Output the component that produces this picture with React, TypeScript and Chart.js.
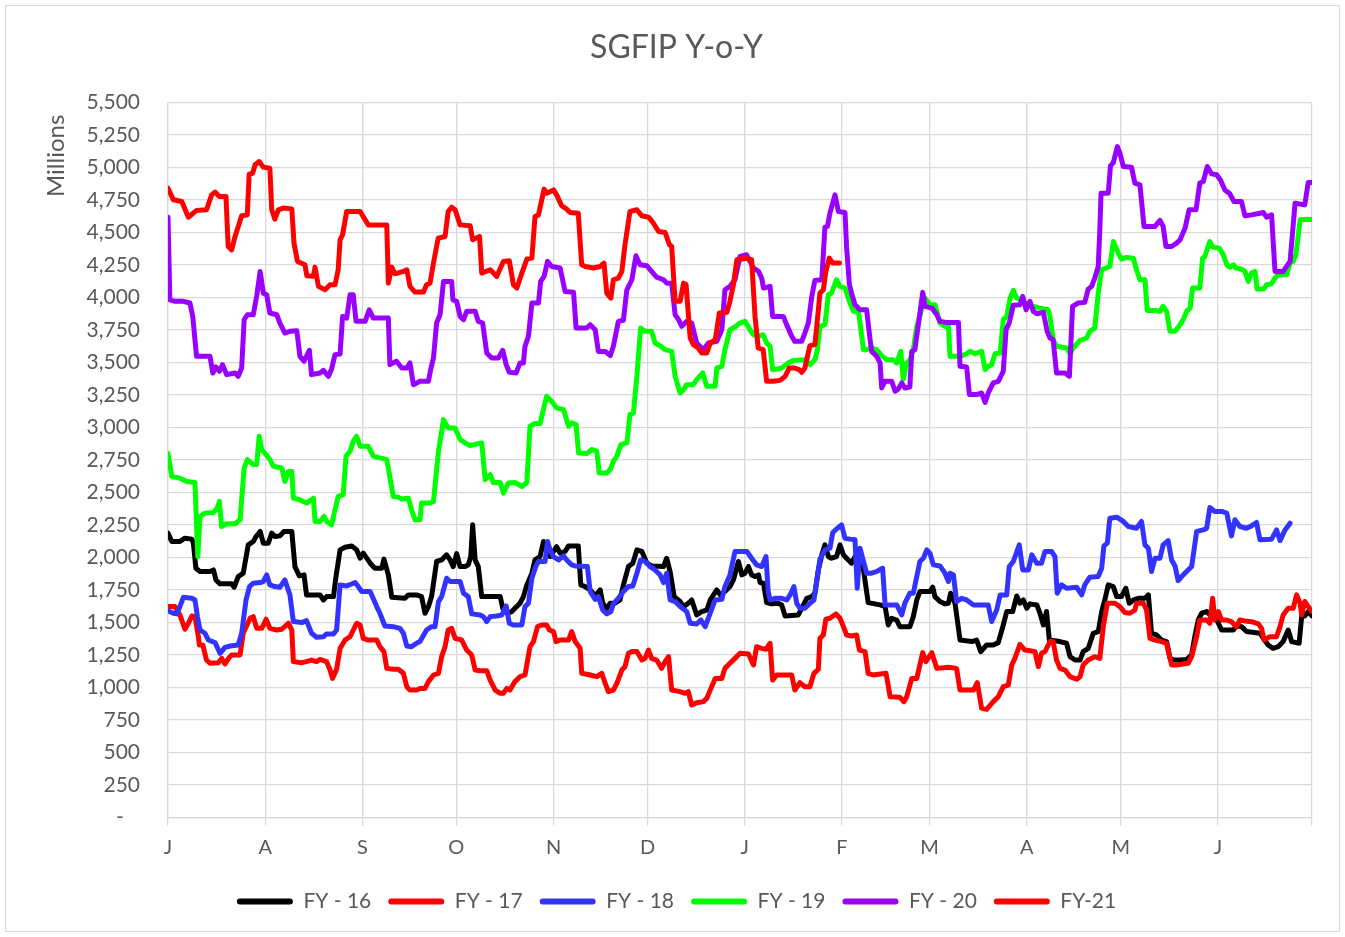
import React, { useEffect, useRef } from "react";
import { Chart, registerables } from "chart.js";

Chart.register(...registerables);

const seriesNames = ["FY - 16", "FY - 17", "FY - 18", "FY - 19", "FY - 20", "FY-21"];
const seriesColors = ["#000000", "#FF0000", "#3333FF", "#00FF00", "#9900FF", "#FF0000"];
const monthStarts = [0, 31, 62, 92, 123, 153, 184, 215, 243, 274, 304, 335, 365];
const monthLabels = ["J", "A", "S", "O", "N", "D", "J", "F", "M", "A", "M", "J", ""];
const chartTitle = "SGFIP Y-o-Y";
const yAxisTitle = "Millions";

// [day of fiscal year (0 = 1 July), value in millions]
const fy16: [number, number][] = [
  [0, 2187], [1.2, 2123], [3.8, 2123], [5.4, 2148], [7.6, 2141], [8.1, 2110], [8.9, 1917], [10.2, 1892], [13.4, 1892], [14.5, 1904],
  [15.3, 1827], [16.6, 1797], [20.3, 1797], [21.1, 1771], [22.4, 1853], [24.0, 1879], [25.6, 2097], [27.2, 2123], [28.1, 2161], [29.4, 2200],
  [30.4, 2110], [32.0, 2110], [33.1, 2187], [34.1, 2161], [35.7, 2166], [37.0, 2200], [39.5, 2200], [40.5, 1930], [41.9, 1858], [43.4, 1866],
  [44.2, 1712], [48.5, 1712], [49.6, 1673], [50.6, 1699], [52.8, 1699], [53.6, 1853], [54.9, 2058], [56.5, 2079], [58.6, 2089], [60.2, 2058],
  [61.3, 1994], [62.3, 2033], [64.5, 1956], [66.0, 1917], [68.2, 1917], [68.9, 1987], [70.3, 1866], [71.4, 1694], [75.6, 1686], [76.7, 1712],
  [79.3, 1712], [80.9, 1699], [82.0, 1571], [83.1, 1622], [84.1, 1699], [85.7, 1969], [87.3, 1981], [88.9, 2020], [90.0, 1981], [91.0, 1930],
  [92.1, 2030], [93.2, 1930], [94.8, 1930], [95.8, 1943], [96.6, 2007], [97.2, 2251], [98.0, 1981], [99.0, 1930], [100.1, 1699], [106.0, 1699],
  [106.8, 1609], [108.1, 1571], [109.7, 1584], [110.7, 1609], [112.3, 1648], [113.4, 1699], [114.5, 1789], [116.1, 1879], [117.1, 1981], [118.7, 2007],
  [119.8, 2123], [120.8, 2097], [121.9, 2007], [124.0, 2084], [125.1, 2033], [126.7, 2046], [127.8, 2089], [130.9, 2089], [131.7, 1789], [133.1, 1776],
  [134.7, 1750], [136.3, 1704], [137.9, 1750], [138.7, 1648], [140.0, 1609], [141.1, 1648], [142.6, 1648], [144.2, 1673], [145.3, 1789], [146.9, 1930],
  [148.3, 1956], [149.6, 2058], [151.2, 2046], [152.8, 1956], [154.3, 1935], [158.1, 1930], [159.1, 1994], [160.2, 1892], [161.5, 1699], [163.4, 1661],
  [164.5, 1622], [166.0, 1648], [167.1, 1673], [168.7, 1558], [170.3, 1584], [171.9, 1596], [173.0, 1673], [175.1, 1750], [176.2, 1712], [177.7, 1738],
  [179.3, 1776], [180.4, 1827], [182.0, 1969], [183.1, 1866], [184.1, 1879], [185.2, 1930], [186.2, 1866], [187.3, 1853], [188.4, 1866], [188.9, 1807],
  [190.0, 1802], [191.0, 1653], [192.6, 1643], [194.7, 1648], [195.8, 1635], [196.9, 1550], [201.1, 1558], [202.2, 1609], [203.8, 1686], [205.4, 1699],
  [206.4, 1725], [207.5, 1904], [208.6, 2020], [209.6, 2097], [210.7, 2007], [211.7, 1994], [213.3, 2007], [214.4, 2097], [215.5, 2020], [216.5, 1994],
  [218.1, 1956], [219.2, 2007], [220.3, 1981], [221.9, 1904], [223.4, 1653], [227.2, 1635], [228.8, 1622], [229.8, 1481], [230.9, 1532], [232.5, 1519],
  [233.5, 1468], [236.7, 1468], [237.8, 1545], [238.9, 1673], [239.9, 1738], [243.1, 1738], [244.0, 1771], [244.7, 1699], [246.3, 1661], [247.9, 1643],
  [249.0, 1648], [249.7, 1725], [251.1, 1648], [252.7, 1365], [256.4, 1353], [258.0, 1365], [259.3, 1276], [261.2, 1327], [263.3, 1327], [264.9, 1345],
  [266.5, 1481], [267.6, 1584], [269.5, 1584], [270.8, 1704], [271.8, 1648], [272.9, 1673], [274.0, 1609], [275.0, 1643], [277.2, 1635], [278.2, 1571],
  [279.3, 1481], [280.3, 1584], [281.2, 1365], [284.6, 1353], [286.7, 1340], [287.8, 1237], [289.4, 1211], [291.0, 1211], [292.0, 1276], [293.6, 1301],
  [295.2, 1417], [296.8, 1430], [297.9, 1584], [298.9, 1673], [300.0, 1789], [301.6, 1776], [302.7, 1699], [304.2, 1699], [305.6, 1763], [306.7, 1648],
  [308.0, 1673], [309.6, 1686], [311.7, 1686], [312.8, 1712], [313.8, 1417], [315.4, 1404], [317.0, 1365], [318.6, 1353], [319.7, 1224], [320.9, 1211],
  [322.9, 1211], [325.0, 1216], [326.6, 1250], [327.6, 1391], [328.7, 1519], [329.8, 1571], [331.4, 1584], [333.0, 1545], [334.6, 1519], [336.2, 1442],
  [339.9, 1442], [340.9, 1473], [342.5, 1468], [344.1, 1430], [348.4, 1417], [349.5, 1378], [351.0, 1327], [352.6, 1301], [354.2, 1314], [355.8, 1353],
  [357.4, 1442], [358.5, 1353], [360.9, 1340], [361.7, 1545], [362.7, 1550], [363.8, 1584], [365.0, 1550],
];

const fy17: [number, number][] = [
  [0, 1622], [2.2, 1622], [3.8, 1558], [5.4, 1448], [6.5, 1494], [7.6, 1550], [8.6, 1545], [9.7, 1391], [10.0, 1327], [11.1, 1327],
  [12.3, 1211], [13.4, 1186], [16.1, 1191], [17.1, 1224], [18.2, 1181], [19.3, 1224], [20.3, 1250], [23.0, 1250], [24.0, 1417], [26.2, 1532],
  [27.2, 1545], [28.3, 1455], [29.9, 1455], [31.3, 1525], [32.5, 1455], [34.7, 1442], [36.3, 1448], [38.4, 1494], [39.5, 1442], [40.0, 1199],
  [42.7, 1191], [44.2, 1199], [45.8, 1211], [47.4, 1199], [48.5, 1216], [50.6, 1199], [51.7, 1134], [52.5, 1070], [53.8, 1140], [54.9, 1301],
  [56.5, 1365], [58.1, 1391], [60.2, 1494], [61.3, 1481], [62.3, 1378], [63.9, 1365], [66.6, 1365], [67.6, 1314], [68.9, 1276], [69.8, 1147],
  [71.9, 1140], [73.5, 1140], [75.1, 1109], [76.2, 1006], [77.2, 980], [79.3, 980], [80.4, 993], [82.0, 993], [83.1, 1045], [84.7, 1096],
  [86.3, 1109], [87.3, 1237], [88.4, 1314], [89.4, 1442], [90.5, 1455], [91.6, 1378], [93.7, 1365], [95.3, 1288], [96.9, 1250], [98.0, 1134],
  [99.6, 1129], [101.7, 1129], [102.8, 1057], [104.4, 980], [106.0, 955], [107.0, 955], [108.1, 993], [109.1, 980], [110.7, 1045], [112.3, 1083],
  [113.9, 1096], [115.5, 1314], [116.6, 1353], [117.9, 1468], [119.2, 1481], [120.8, 1481], [121.7, 1442], [123.0, 1430], [123.8, 1353], [125.1, 1365],
  [127.8, 1365], [128.8, 1430], [129.9, 1353], [131.5, 1301], [132.0, 1109], [134.7, 1096], [136.8, 1083], [138.4, 1109], [139.5, 1032], [140.5, 968],
  [142.1, 980], [143.2, 1032], [144.8, 1134], [145.8, 1160], [146.9, 1263], [148.0, 1276], [149.6, 1276], [151.2, 1211], [152.2, 1224], [153.3, 1288],
  [154.3, 1224], [155.9, 1211], [157.5, 1147], [158.6, 1199], [159.7, 1237], [160.7, 980], [163.4, 968], [165.0, 955], [166.0, 968], [167.1, 865],
  [168.7, 883], [170.8, 891], [171.9, 916], [173.0, 980], [174.6, 1070], [176.7, 1070], [177.7, 1147], [179.3, 1186], [180.9, 1224], [182.5, 1263],
  [185.2, 1258], [186.8, 1173], [187.8, 1314], [189.4, 1301], [190.8, 1294], [192.1, 1340], [192.9, 1057], [194.2, 1096], [199.0, 1096], [200.0, 980],
  [201.6, 1037], [203.2, 1006], [204.8, 1006], [206.1, 1109], [207.5, 1140], [208.0, 1378], [209.1, 1404], [209.9, 1525], [211.2, 1532], [213.1, 1566],
  [214.4, 1532], [215.5, 1468], [216.5, 1404], [218.1, 1396], [219.7, 1404], [220.6, 1288], [222.4, 1276], [223.4, 1109], [225.0, 1096], [229.1, 1109],
  [230.4, 929], [233.5, 924], [234.8, 891], [235.7, 929], [237.3, 1070], [238.9, 1070], [240.8, 1268], [241.8, 1199], [243.7, 1268], [245.3, 1147],
  [249.0, 1155], [251.6, 1147], [252.7, 980], [257.0, 980], [258.2, 1037], [259.6, 839], [261.2, 832], [263.3, 891], [264.9, 929], [266.5, 1006],
  [268.1, 1019], [269.2, 1173], [270.2, 1224], [271.8, 1332], [273.4, 1288], [275.0, 1283], [276.6, 1276], [277.7, 1160], [278.7, 1263], [279.8, 1276],
  [281.4, 1353], [282.4, 1353], [283.5, 1211], [284.6, 1147], [286.2, 1134], [287.8, 1083], [289.9, 1063], [291.0, 1083], [292.0, 1173], [293.6, 1211],
  [295.7, 1237], [297.3, 1224], [298.4, 1468], [299.7, 1648], [302.1, 1648], [303.7, 1622], [305.3, 1576], [306.9, 1571], [308.5, 1596], [309.0, 1648],
  [311.2, 1648], [312.2, 1596], [313.3, 1378], [314.9, 1365], [317.0, 1353], [318.6, 1340], [320.2, 1173], [321.8, 1173], [323.9, 1181], [325.5, 1186],
  [326.6, 1237], [328.2, 1391], [329.2, 1519], [331.4, 1519], [332.4, 1494], [333.3, 1686], [334.0, 1519], [335.1, 1584], [336.2, 1519], [337.8, 1519],
  [339.3, 1506], [340.9, 1468], [342.0, 1519], [343.6, 1512], [345.7, 1506], [347.9, 1489], [348.9, 1455], [349.7, 1365], [351.6, 1391], [353.7, 1391],
  [354.8, 1468], [355.8, 1558], [357.4, 1609], [359.0, 1609], [360.1, 1712], [361.2, 1648], [361.7, 1558], [362.7, 1661], [363.8, 1622], [365.0, 1584],
];

const fy18: [number, number][] = [
  [0, 1591], [1.7, 1571], [2.8, 1566], [3.8, 1622], [4.9, 1694], [7.6, 1686], [8.6, 1673], [9.4, 1545], [10.2, 1442], [11.8, 1417],
  [12.9, 1365], [15.0, 1345], [16.6, 1263], [18.2, 1309], [19.8, 1319], [22.4, 1327], [23.5, 1417], [24.9, 1673], [26.0, 1776], [27.2, 1802],
  [29.4, 1807], [30.4, 1815], [31.5, 1866], [32.5, 1789], [34.1, 1776], [35.7, 1771], [37.3, 1827], [38.9, 1712], [40.0, 1507], [42.7, 1499],
  [44.2, 1514], [45.8, 1417], [47.4, 1386], [49.6, 1391], [50.6, 1412], [52.8, 1412], [53.8, 1442], [54.9, 1789], [57.0, 1781], [58.6, 1796],
  [59.7, 1807], [60.7, 1776], [61.8, 1738], [64.5, 1738], [66.6, 1622], [67.6, 1571], [69.2, 1473], [71.9, 1468], [74.0, 1455], [75.1, 1417],
  [76.2, 1319], [77.7, 1314], [79.3, 1340], [80.4, 1353], [82.5, 1442], [84.1, 1468], [85.2, 1468], [86.3, 1661], [87.3, 1699], [88.9, 1840],
  [90.0, 1815], [93.2, 1815], [94.3, 1725], [95.8, 1699], [96.9, 1566], [99.6, 1558], [100.6, 1545], [101.7, 1507], [102.8, 1545], [104.9, 1550],
  [106.5, 1558], [107.9, 1627], [108.9, 1494], [110.2, 1481], [112.9, 1481], [113.9, 1622], [115.0, 1648], [116.1, 1840], [117.4, 1935], [118.2, 1969],
  [120.3, 1969], [121.1, 2123], [121.9, 2058], [123.0, 2007], [124.6, 1981], [126.2, 2012], [127.2, 1981], [128.8, 1943], [129.9, 1935], [133.8, 1930],
  [134.7, 1738], [136.3, 1678], [137.3, 1699], [138.7, 1596], [140.0, 1566], [141.3, 1584], [142.1, 1643], [143.7, 1686], [145.3, 1738], [146.9, 1776],
  [148.3, 1781], [149.6, 1879], [150.8, 1981], [152.2, 1969], [153.8, 1930], [155.4, 1904], [157.0, 1866], [158.1, 1807], [159.1, 1879], [160.2, 1673],
  [161.8, 1661], [163.4, 1622], [165.5, 1584], [166.6, 1494], [168.7, 1489], [170.0, 1519], [171.4, 1468], [173.0, 1571], [174.6, 1673], [176.7, 1678],
  [177.7, 1776], [179.3, 1866], [180.9, 2046], [184.7, 2046], [186.2, 1994], [187.8, 1943], [189.4, 1930], [190.8, 2007], [191.5, 1738], [192.1, 1673],
  [193.7, 1686], [195.8, 1686], [197.4, 1673], [198.5, 1712], [199.7, 1776], [200.6, 1648], [201.6, 1609], [203.2, 1609], [204.8, 1648], [206.1, 1673],
  [207.2, 1853], [208.0, 1987], [209.6, 2058], [211.2, 2071], [212.1, 2192], [213.6, 2225], [214.9, 2251], [216.0, 2148], [217.6, 2141], [219.2, 2136],
  [219.9, 1763], [220.8, 2071], [221.9, 1969], [222.9, 1879], [224.5, 1879], [226.1, 1892], [228.0, 1917], [228.8, 1635], [232.5, 1635], [234.1, 1558],
  [235.1, 1648], [236.7, 1725], [237.8, 1725], [238.9, 1853], [239.9, 1969], [241.0, 1994], [242.1, 2058], [243.1, 2033], [244.2, 1943], [246.3, 1935],
  [247.9, 1879], [249.0, 1815], [249.5, 1879], [250.6, 1866], [251.6, 1661], [253.2, 1686], [254.8, 1673], [257.0, 1635], [261.7, 1635], [262.8, 1507],
  [264.4, 1596], [265.5, 1712], [267.6, 1712], [268.4, 1930], [269.7, 1969], [271.6, 2097], [272.7, 1904], [274.5, 1904], [275.6, 2020], [277.2, 1956],
  [278.7, 1956], [279.8, 2046], [281.9, 2046], [283.0, 2007], [283.7, 1725], [285.1, 1789], [286.7, 1763], [289.9, 1771], [291.5, 1712], [292.5, 1789],
  [294.1, 1848], [296.8, 1853], [297.9, 1917], [298.6, 2089], [299.7, 2110], [300.5, 2302], [302.7, 2310], [304.8, 2277], [306.4, 2238], [309.0, 2225],
  [310.6, 2277], [311.7, 2097], [312.8, 2071], [313.8, 1892], [314.9, 1994], [316.5, 1994], [317.5, 2097], [319.1, 2130], [320.2, 1981], [321.3, 1935],
  [322.3, 1822], [323.9, 1866], [325.0, 1892], [326.6, 1930], [328.2, 2200], [330.3, 2212], [331.4, 2225], [332.4, 2384], [334.0, 2354], [336.2, 2354],
  [337.8, 2341], [339.3, 2166], [340.4, 2290], [342.0, 2238], [344.1, 2225], [345.7, 2243], [347.3, 2269], [348.4, 2136], [352.1, 2141], [353.7, 2212],
  [354.8, 2130], [356.4, 2212], [358.0, 2264],
];

const fy19: [number, number][] = [
  [0, 2800], [1.2, 2623], [3.8, 2610], [6.0, 2585], [8.6, 2577], [9.5, 2007], [10.2, 2315], [11.8, 2341], [14.5, 2346], [15.7, 2379],
  [16.4, 2431], [17.1, 2238], [18.7, 2259], [21.4, 2259], [23.0, 2290], [23.5, 2444], [24.3, 2687], [25.3, 2753], [27.2, 2715], [28.3, 2715],
  [29.1, 2932], [29.9, 2830], [31.3, 2791], [32.5, 2753], [33.6, 2702], [36.3, 2689], [37.3, 2585], [38.4, 2662], [39.5, 2662], [40.0, 2456],
  [42.1, 2444], [44.2, 2418], [46.4, 2456], [46.9, 2277], [48.5, 2277], [49.8, 2315], [50.6, 2277], [52.2, 2251], [53.3, 2367], [54.3, 2469],
  [55.9, 2482], [56.8, 2779], [58.1, 2817], [59.1, 2894], [60.2, 2932], [61.3, 2855], [63.9, 2855], [65.5, 2779], [67.6, 2766], [69.8, 2753],
  [71.9, 2469], [73.5, 2464], [74.6, 2449], [76.7, 2456], [77.7, 2367], [78.8, 2290], [80.4, 2290], [80.9, 2418], [83.6, 2418], [84.7, 2431],
  [86.3, 2817], [87.9, 3060], [89.4, 2996], [91.6, 2996], [93.2, 2907], [94.8, 2881], [96.4, 2861], [100.1, 2881], [101.2, 2598], [102.8, 2636],
  [103.8, 2577], [106.0, 2577], [107.0, 2495], [108.6, 2572], [110.7, 2577], [112.9, 2546], [114.5, 2577], [115.5, 3009], [117.1, 3030], [118.7, 3030],
  [120.8, 3240], [122.4, 3201], [124.0, 3150], [126.2, 3137], [127.8, 3009], [128.8, 3035], [130.2, 3022], [131.0, 2804], [133.6, 2799], [135.2, 2830],
  [136.8, 2817], [137.6, 2650], [140.0, 2650], [141.1, 2676], [142.1, 2740], [143.2, 2779], [144.5, 2868], [146.4, 2881], [147.4, 3099], [148.5, 3112],
  [149.6, 3393], [150.8, 3765], [152.2, 3739], [154.3, 3739], [155.4, 3649], [157.0, 3629], [158.6, 3598], [160.7, 3585], [161.8, 3393], [163.4, 3265],
  [164.5, 3291], [165.5, 3329], [167.6, 3329], [168.7, 3368], [170.6, 3419], [171.9, 3317], [174.6, 3317], [175.1, 3457], [176.7, 3470], [177.7, 3598],
  [179.3, 3752], [180.9, 3772], [182.5, 3803], [184.1, 3816], [185.7, 3752], [186.8, 3713], [188.4, 3701], [189.9, 3713], [191.0, 3649], [192.1, 3624],
  [192.9, 3445], [194.7, 3450], [195.8, 3457], [197.9, 3496], [199.5, 3514], [203.2, 3521], [204.8, 3483], [206.4, 3521], [207.2, 3598], [208.0, 3777],
  [209.6, 3790], [210.7, 4021], [211.7, 4033], [213.3, 4136], [214.4, 4085], [216.0, 4072], [217.6, 3957], [218.7, 3893], [220.3, 3893], [221.9, 3598],
  [222.9, 3598], [224.5, 3611], [226.1, 3598], [227.7, 3552], [229.3, 3521], [231.4, 3521], [232.5, 3496], [233.8, 3585], [234.6, 3373], [235.7, 3496],
  [236.7, 3521], [237.8, 3598], [238.9, 3777], [241.5, 3995], [243.1, 3944], [244.7, 3944], [246.3, 3803], [247.9, 3777], [249.0, 3777], [249.5, 3547],
  [252.7, 3547], [254.8, 3567], [255.9, 3585], [257.5, 3567], [259.6, 3585], [260.7, 3445], [261.7, 3470], [262.8, 3483], [263.9, 3567], [265.5, 3572],
  [266.5, 3829], [267.6, 3854], [268.7, 3995], [269.7, 4054], [270.8, 3995], [272.4, 3982], [274.0, 3944], [276.1, 3931], [278.2, 3918], [280.8, 3905],
  [281.4, 3854], [282.4, 3675], [283.5, 3624], [286.7, 3611], [287.8, 3567], [288.8, 3611], [291.0, 3670], [293.1, 3688], [294.1, 3739], [295.7, 3765],
  [296.8, 4033], [297.9, 4213], [300.5, 4238], [301.6, 4430], [303.2, 4341], [304.2, 4295], [305.8, 4308], [308.0, 4302], [309.0, 4213], [310.1, 4136],
  [311.7, 4136], [312.4, 3900], [314.9, 3900], [316.5, 3893], [317.5, 3931], [318.6, 3893], [319.7, 3739], [321.3, 3739], [322.9, 3790], [323.9, 3829],
  [325.0, 3893], [326.1, 3918], [326.9, 4072], [329.2, 4072], [330.1, 4302], [330.8, 4315], [332.4, 4430], [333.3, 4387], [335.4, 4379], [336.7, 4328],
  [337.8, 4251], [338.8, 4233], [339.9, 4251], [340.7, 4226], [342.5, 4218], [343.6, 4200], [344.7, 4123], [345.7, 4187], [346.8, 4200], [347.5, 4064],
  [349.5, 4064], [350.5, 4098], [352.1, 4105], [353.2, 4149], [354.2, 4174], [356.9, 4174], [358.0, 4264], [359.0, 4277], [359.9, 4330], [361.2, 4597],
  [363.8, 4602], [365.0, 4600],
];

const fy20: [number, number][] = [
  [0, 4617], [0.6, 3982], [2.2, 3970], [4.9, 3970], [7.0, 3957], [7.9, 3854], [9.1, 3547], [13.4, 3547], [14.3, 3419], [15.3, 3465],
  [16.4, 3432], [17.4, 3483], [18.7, 3406], [21.4, 3419], [22.4, 3393], [23.5, 3457], [24.3, 3829], [25.3, 3867], [27.2, 3867], [28.3, 4010],
  [29.4, 4200], [30.4, 4033], [31.5, 4021], [32.5, 3880], [34.7, 3867], [35.7, 3803], [37.3, 3726], [38.9, 3739], [41.1, 3744], [42.1, 3547],
  [43.4, 3509], [45.1, 3593], [45.8, 3406], [48.5, 3419], [49.6, 3439], [51.2, 3393], [52.2, 3450], [53.3, 3560], [54.9, 3565], [55.7, 3854],
  [57.0, 3841], [58.1, 4021], [59.1, 4021], [60.0, 3816], [62.9, 3816], [64.2, 3905], [65.5, 3841], [70.3, 3841], [70.8, 3483], [72.9, 3509],
  [74.6, 3457], [76.2, 3457], [77.2, 3496], [78.3, 3329], [80.4, 3355], [83.1, 3355], [83.8, 3445], [84.7, 3534], [85.7, 3803], [86.8, 3867],
  [87.9, 4123], [90.5, 4123], [90.9, 3982], [92.1, 3970], [93.2, 3854], [94.3, 3829], [95.3, 3893], [98.0, 3893], [99.0, 3816], [100.4, 3803],
  [101.7, 3573], [103.3, 3534], [105.4, 3534], [106.8, 3593], [107.9, 3483], [108.9, 3424], [111.1, 3419], [112.3, 3496], [113.4, 3496], [113.9, 3624],
  [115.0, 3701], [116.1, 3957], [118.2, 3957], [118.9, 4123], [120.0, 4162], [121.1, 4277], [122.4, 4238], [125.1, 4226], [126.7, 4046], [129.4, 4039],
  [130.2, 3765], [133.6, 3765], [134.7, 3790], [136.3, 3752], [137.3, 3585], [139.5, 3585], [141.1, 3552], [142.1, 3624], [143.7, 3816], [145.3, 3824],
  [146.4, 4059], [148.0, 4136], [149.3, 4320], [150.6, 4251], [152.8, 4243], [154.3, 4200], [155.9, 4156], [158.1, 4136], [159.1, 4110], [160.7, 4110],
  [161.8, 3867], [162.9, 3829], [163.9, 3778], [165.5, 3816], [167.1, 3803], [168.7, 3649], [170.8, 3598], [172.4, 3649], [175.1, 3662], [176.7, 3752],
  [177.7, 4059], [179.3, 4085], [180.9, 4136], [182.5, 4315], [184.6, 4328], [186.8, 4226], [188.4, 4200], [189.4, 4149], [190.0, 4072], [192.1, 4085],
  [192.9, 3854], [196.3, 3854], [197.4, 3790], [199.0, 3701], [200.0, 3662], [202.2, 3662], [203.2, 3726], [204.3, 3803], [205.4, 4008], [206.4, 4131],
  [208.6, 4136], [209.6, 4541], [210.4, 4546], [211.2, 4648], [212.8, 4789], [213.9, 4661], [216.0, 4653], [216.5, 4392], [217.4, 4098], [218.1, 4033],
  [219.2, 3944], [220.8, 3905], [222.9, 3905], [224.0, 3675], [224.5, 3585], [226.1, 3547], [227.2, 3496], [227.7, 3304], [228.8, 3355], [230.9, 3355],
  [232.0, 3278], [233.0, 3296], [234.1, 3342], [235.1, 3304], [236.7, 3311], [237.3, 3585], [238.3, 3598], [239.4, 3790], [240.8, 4039], [241.5, 3931],
  [243.7, 3918], [245.3, 3867], [246.3, 3816], [248.4, 3808], [252.2, 3808], [252.7, 3470], [254.8, 3465], [255.7, 3253], [258.0, 3253], [259.6, 3265],
  [260.7, 3193], [261.7, 3265], [263.3, 3342], [264.9, 3355], [266.5, 3432], [267.4, 3752], [268.4, 3803], [269.7, 3939], [271.8, 3944], [272.7, 4008],
  [273.8, 3905], [275.0, 3970], [276.1, 3893], [277.2, 3875], [279.3, 3885], [280.5, 3739], [281.4, 3688], [282.4, 3675], [283.5, 3419], [286.2, 3419],
  [287.6, 3393], [288.6, 3931], [290.4, 3957], [292.5, 3962], [293.6, 4064], [294.7, 4085], [295.7, 4149], [296.8, 4238], [297.3, 4520], [297.7, 4802],
  [300.0, 4802], [300.7, 5012], [301.6, 5037], [302.9, 5160], [303.7, 5109], [304.8, 5007], [307.4, 5002], [308.5, 4879], [310.1, 4866], [311.4, 4546],
  [314.9, 4546], [316.5, 4592], [317.5, 4546], [318.4, 4392], [320.2, 4392], [321.8, 4418], [322.9, 4443], [324.5, 4533], [325.8, 4674], [328.0, 4674],
  [329.2, 4879], [330.3, 4891], [331.6, 5007], [333.0, 4950], [334.6, 4943], [335.8, 4904], [337.2, 4827], [338.8, 4797], [340.1, 4738], [342.5, 4738],
  [343.6, 4628], [345.7, 4635], [348.4, 4648], [349.5, 4653], [350.5, 4617], [352.1, 4635], [353.2, 4200], [355.8, 4200], [358.0, 4277], [359.6, 4725],
  [362.7, 4712], [363.8, 4884], [365.0, 4884],
];

const fy21: [number, number][] = [
  [0, 4840], [1.7, 4751], [4.4, 4738], [6.5, 4617], [9.1, 4669], [12.3, 4674], [13.9, 4789], [15.0, 4810], [16.4, 4776], [18.5, 4776],
  [19.2, 4392], [20.3, 4366], [21.4, 4469], [23.5, 4628], [25.3, 4635], [25.9, 4948], [27.0, 4955], [27.8, 5020], [29.1, 5045], [30.4, 5002],
  [32.5, 4994], [33.1, 4674], [34.1, 4602], [35.2, 4674], [36.8, 4687], [39.5, 4681], [40.2, 4418], [41.3, 4277], [43.7, 4251], [44.3, 4167],
  [46.4, 4162], [46.9, 4233], [48.0, 4085], [50.1, 4059], [51.7, 4098], [53.3, 4098], [54.3, 4213], [54.9, 4443], [55.7, 4482], [57.0, 4661],
  [61.3, 4661], [62.9, 4597], [63.9, 4558], [69.8, 4558], [70.3, 4110], [71.4, 4233], [72.4, 4182], [75.1, 4200], [76.2, 4213], [77.2, 4085],
  [78.8, 4041], [81.5, 4041], [82.5, 4098], [83.6, 4110], [84.7, 4264], [86.2, 4456], [88.4, 4469], [89.4, 4661], [90.5, 4694], [91.6, 4674],
  [93.2, 4558], [96.4, 4551], [97.2, 4443], [99.4, 4469], [100.1, 4187], [102.8, 4213], [104.9, 4162], [107.0, 4277], [108.9, 4282], [110.2, 4098],
  [111.3, 4072], [112.9, 4187], [114.5, 4295], [116.1, 4302], [117.1, 4623], [118.2, 4635], [120.0, 4833], [120.8, 4802], [123.0, 4827], [124.0, 4789],
  [125.6, 4705], [127.2, 4679], [128.3, 4653], [130.9, 4648], [132.0, 4251], [133.1, 4238], [135.7, 4226], [137.9, 4238], [139.1, 4264], [140.0, 4033],
  [141.3, 3995], [142.1, 4136], [143.7, 4149], [144.8, 4200], [145.8, 4405], [147.4, 4661], [149.6, 4674], [151.2, 4628], [153.3, 4617], [154.9, 4571],
  [156.5, 4507], [158.6, 4500], [160.0, 4405], [160.7, 4392], [161.8, 3970], [163.4, 3970], [164.5, 4110], [165.3, 4098], [166.6, 3688], [167.6, 3637],
  [169.2, 3611], [170.3, 3573], [171.9, 3573], [173.0, 3649], [174.6, 3675], [175.9, 3880], [178.3, 3885], [179.3, 3970], [180.4, 4098], [181.5, 4290],
  [184.6, 4302], [186.2, 4290], [187.3, 3854], [188.3, 3611], [189.9, 3598], [191.0, 3355], [193.1, 3355], [195.3, 3362], [196.9, 3393], [198.2, 3457],
  [200.0, 3457], [201.4, 3445], [202.2, 3424], [203.2, 3457], [204.8, 3629], [206.4, 3637], [207.2, 3829], [208.0, 4033], [209.1, 4059], [209.9, 4200],
  [211.0, 4302], [212.1, 4264], [214.2, 4264],
];

const allSeries = [fy16, fy17, fy18, fy19, fy20, fy21];

const TEXT = "#595959";
const GRID = "#d9d9d9";

export default function App() {
  const canvasRef = useRef<HTMLCanvasElement | null>(null);

  useEffect(() => {
    const canvas = canvasRef.current;
    if (!canvas) return;

    const framePlugin = {
      id: "frame",
      beforeDraw(chart: any) {
        const { ctx, width, height } = chart;
        ctx.save();
        ctx.fillStyle = "#ffffff";
        ctx.fillRect(0, 0, width, height);
        ctx.strokeStyle = GRID;
        ctx.lineWidth = 1;
        ctx.strokeRect(5.5, 5.5, width - 11, height - 11);
        ctx.restore();
      },
    };

    const chart = new Chart(canvas, {
      type: "line",
      data: {
        datasets: allSeries.map((s, i) => ({
          label: seriesNames[i],
          data: s.map(([x, y]) => ({ x, y })),
          borderColor: seriesColors[i],
          backgroundColor: seriesColors[i],
          borderWidth: 5,
          pointRadius: 0,
          pointHoverRadius: 0,
          tension: 0,
          fill: false,
          borderJoinStyle: "round",
          borderCapStyle: "round",
          order: allSeries.length - 1 - i,
        })),
      },
      options: {
        animation: false,
        responsive: false,
        maintainAspectRatio: false,
        layout: { padding: { top: 0, right: 0, bottom: 15, left: 8 } },
        plugins: {
          tooltip: { enabled: false },
          title: {
            display: true,
            text: chartTitle,
            color: TEXT,
            font: { family: "Lato", size: 32, weight: "normal" },
            padding: { top: 28, bottom: 36 },
          },
          legend: {
            position: "bottom",
            labels: {
              color: TEXT,
              font: { family: "Lato", size: 21 },
              boxWidth: 56,
              boxHeight: 6,
              padding: 17,
              useBorderRadius: true,
              borderRadius: 3,
              generateLabels: (c: any) => {
                const items = (Chart as any).defaults.plugins.legend.labels.generateLabels(c);
                items.forEach((it: any) => {
                  it.lineWidth = 0;
                });
                return items.sort((a: any, b: any) => a.datasetIndex - b.datasetIndex);
              },
            },
          },
        },
        scales: {
          x: {
            type: "linear",
            min: 0,
            max: 365,
            afterBuildTicks: (s: any) => {
              s.ticks = monthStarts.map((v) => ({ value: v }));
            },
            afterFit: (s: any) => {
              s.height = 56.5;
            },
            ticks: {
              autoSkip: false,
              maxRotation: 0,
              color: TEXT,
              font: { family: "Lato", size: 20 },
              padding: 10,
              callback: (_v: any, i: number) => monthLabels[i] ?? "",
            },
            grid: { color: GRID, lineWidth: 1.3, drawTicks: true, tickLength: 8, tickColor: GRID },
            border: { color: GRID, width: 1.3 },
          },
          y: {
            min: 0,
            max: 5500,
            afterFit: (s: any) => {
              s.width = 160;
            },
            ticks: {
              stepSize: 250,
              autoSkip: false,
              color: TEXT,
              font: { family: "Lato", size: 21 },
              padding: 28,
              callback: (v: any) => (Number(v) === 0 ? "-   " : Number(v).toLocaleString("en-US")),
            },
            grid: { color: GRID, lineWidth: 1.3, drawTicks: false },
            border: { color: GRID, width: 1.3 },
            title: {
              display: true,
              text: yAxisTitle + "  ",
              align: "end",
              color: TEXT,
              font: { family: "Lato", size: 24 },
              padding: { top: 34, bottom: 0 },
            },
          },
          y2: {
            position: "right",
            display: true,
            min: 0,
            max: 1,
            afterFit: (s: any) => {
              s.width = 33;
            },
            ticks: { display: false },
            grid: { display: false },
            border: { display: false },
          },
        },
      } as any,
      plugins: [framePlugin],
    });

    return () => chart.destroy();
  }, []);

  return (
    <div style={{ position: "absolute", left: 0, top: 0, width: 1345, height: 937 }}>
      <canvas ref={canvasRef} width={1345} height={937} style={{ display: "block", width: 1345, height: 937 }} />
    </div>
  );
}
